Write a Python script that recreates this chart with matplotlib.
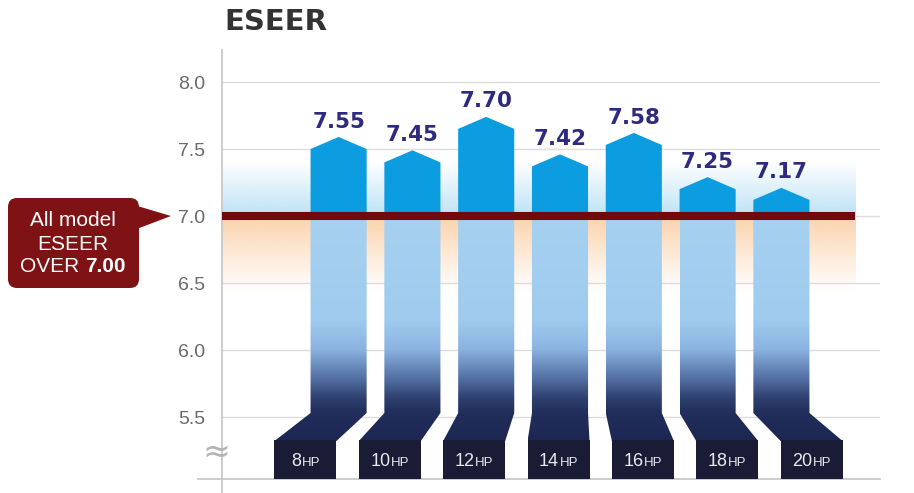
import numpy as np
import matplotlib
matplotlib.use("Agg")
import matplotlib.pyplot as plt
from matplotlib.patches import Polygon, FancyBboxPatch, Rectangle
from matplotlib.colors import to_rgb
from matplotlib.offsetbox import TextArea, HPacker, AnnotationBbox

# ---------------- data ----------------
models = ["8", "10", "12", "14", "16", "18", "20"]
eseer = [7.55, 7.45, 7.70, 7.42, 7.58, 7.25, 7.17]
threshold = 7.00
yticks = [5.5, 6.0, 6.5, 7.0, 7.5, 8.0]
title = "ESEER"
callout_lines = ["All model", "ESEER", "OVER "]
callout_value = "7.00"

# ---------------- layout helpers ----------------
W, H = 914, 493
fig = plt.figure(figsize=(W / 100, H / 100), dpi=100)
fig.patch.set_facecolor("white")

PX_UNIT = 134.0
Y_REF_PX = 216.0


def px2y(p):
    return threshold + (Y_REF_PX - p) / PX_UNIT


X_STEP = 73.8
X_CENTER_PX = 560.0


def px2x(p):
    return 3 + (p - X_CENTER_PX) / X_STEP


ax = fig.add_axes([222 / W, 0, (880 - 222) / W, (H - 50) / H])
ax.set_xlim(px2x(222), px2x(880))
ax.set_ylim(px2y(493), px2y(50))
ax.set_facecolor("none")
for s in ["top", "right", "bottom"]:
    ax.spines[s].set_visible(False)
ax.spines["left"].set_color("#c4c4c4")
ax.spines["left"].set_linewidth(1.2)
ax.set_xticks([])
ax.set_yticks(yticks)
ax.set_yticklabels([f"{t:.1f}" for t in yticks], family="Liberation Sans",
                   fontsize=14, color="#6a6a6a")
ax.tick_params(axis="y", length=0, pad=12)

# grid lines
for t in yticks:
    ax.axhline(t, color="#dcdcdc", lw=1.0, zorder=1)

# background band around the threshold
band_x0, band_x1 = px2x(222), px2x(855)
ys = np.linspace(6.3, 7.45, 400)
band = np.zeros((len(ys), 2, 4))
blue_c = np.array(to_rgb("#bde2f7"))
peach_c = np.array(to_rgb("#fbd2ab"))
for k, yv in enumerate(ys):
    if yv >= threshold:
        a = max(0.0, 1 - (yv - threshold) / 0.40) ** 1.0
        band[k, :, :3] = blue_c
    else:
        a = max(0.0, 1 - (threshold - yv) / 0.58) ** 1.1
        band[k, :, :3] = peach_c
    band[k, :, 3] = a
ax.imshow(band, extent=[band_x0, band_x1, ys[0], ys[-1]], origin="lower",
          aspect="auto", zorder=0.5, interpolation="bilinear")

# column gradient (light blue -> navy)
g_y = [5.28, 5.53, 5.63, 5.81, 6.0, 6.22, 7.0]
g_c = ["#1c2550", "#222e5b", "#2e3f6e", "#5a78ab", "#8ab3e0", "#9fcbee", "#a6d1f0"]
g_rgb = np.array([to_rgb(c) for c in g_c])
gy = np.linspace(5.28, 7.0, 500)
grad = np.zeros((len(gy), 2, 3))
for ch in range(3):
    col = np.interp(gy, g_y, g_rgb[:, ch])
    grad[:, :, ch] = col[:, None]

baseline = px2y(479)
hw = 0.38
bhw = 0.42
slant_top = px2y(413)
box_top = px2y(441)

for i, (m, v) in enumerate(zip(models, eseer)):
    x0, x1 = i - hw, i + hw
    peak = v + 0.04
    sh = peak - 0.09
    top = Polygon([(x0, threshold), (x0, sh), (i, peak), (x1, sh), (x1, threshold)],
                  closed=True, facecolor="#0c9de0", edgecolor="none", zorder=3)
    ax.add_patch(top)

    bc = 2.98 + (i - 3) * 1.143
    lower = Polygon([(x0, threshold), (x1, threshold), (x1, slant_top),
                     (bc + bhw, box_top), (bc - bhw, box_top), (x0, slant_top)],
                    closed=True, facecolor="none", edgecolor="none", zorder=3)
    ax.add_patch(lower)
    im = ax.imshow(grad, extent=[min(x0, bc - bhw), max(x1, bc + bhw), 5.28, threshold],
                   origin="lower", aspect="auto", zorder=3, interpolation="bilinear")
    im.set_clip_path(lower)

    ax.add_patch(Rectangle((bc - bhw, baseline), 2 * bhw, box_top - baseline + 0.005,
                           facecolor="#1a1b34", edgecolor="none", zorder=4))

    num = TextArea(m, textprops=dict(color="#e8e8f0", fontsize=13, family="Liberation Sans"))
    hp = TextArea("HP", textprops=dict(color="#e8e8f0", fontsize=9.5, family="Liberation Sans"))
    pk = HPacker(children=[num, hp], align="baseline", pad=0, sep=0.5)
    ab = AnnotationBbox(pk, (bc, (baseline + box_top) / 2 - 0.01), frameon=False,
                        box_alignment=(0.5, 0.5), zorder=6)
    ax.add_artist(ab)

    ax.text(i, peak + 0.07, f"{v:.2f}", ha="center", va="baseline", fontsize=15.5,
            weight="bold", color="#2d2a80", family="DejaVu Sans", zorder=6)

# threshold line
ax.plot([px2x(222), px2x(855)], [threshold, threshold], color="#700a0c", lw=5.8,
        solid_capstyle="butt", zorder=5)

# base line
ax.plot([px2x(198), px2x(880)], [baseline, baseline], color="#c4c4c4", lw=1.2,
        clip_on=False, zorder=2)

# ---------------- overlay (title, callout, break mark) ----------------
ov = fig.add_axes([0, 0, 1, 1])
ov.set_xlim(0, W)
ov.set_ylim(H, 0)
ov.axis("off")
ov.patch.set_visible(False)

ov.text(224, 22, title, ha="left", va="center", fontsize=21, weight="bold",
        color="#333333", family="DejaVu Sans")

ov.add_patch(FancyBboxPatch((8, 198), 131, 90,
                            boxstyle="round,pad=0,rounding_size=9",
                            facecolor="#7e1214", edgecolor="none"))
ov.add_patch(Polygon([(134, 205), (171, 216), (134, 230)], closed=True,
                     facecolor="#7e1214", edgecolor="none"))
ov.text(73, 221, callout_lines[0], ha="center", va="center", color="white",
        fontsize=15, family="Liberation Sans")
ov.text(73, 244, callout_lines[1], ha="center", va="center", color="white",
        fontsize=15, family="Liberation Sans")
t1 = TextArea(callout_lines[2], textprops=dict(color="white", fontsize=15, family="Liberation Sans"))
t2 = TextArea(callout_value, textprops=dict(color="white", fontsize=15, weight="bold",
                                            family="Liberation Sans"))
ov.add_artist(AnnotationBbox(HPacker(children=[t1, t2], align="baseline", pad=0, sep=0),
                             (73, 267), frameon=False, box_alignment=(0.5, 0.5)))

ov.text(216, 452, "\u2248", ha="center", va="center", fontsize=24, color="#b4b4b4",
        family="DejaVu Sans")

fig.savefig("out.png", dpi=100, facecolor="white")
